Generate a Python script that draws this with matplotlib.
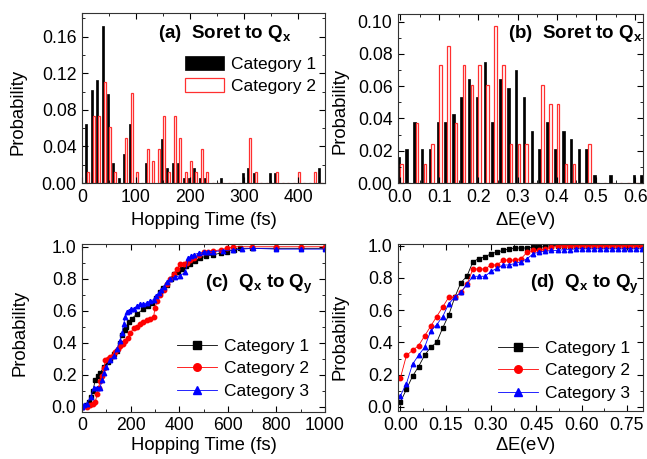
import matplotlib
matplotlib.use("Agg")
import matplotlib.pyplot as plt
import numpy as np
from matplotlib.ticker import MultipleLocator, FormatStrFormatter

plt.rcParams['font.family'] = ['Liberation Sans', 'DejaVu Sans']
plt.rcParams['mathtext.fontset'] = 'custom'
plt.rcParams['mathtext.rm'] = 'Liberation Sans'
plt.rcParams['mathtext.bf'] = 'Liberation Sans:bold'
plt.rcParams['mathtext.it'] = 'Liberation Sans:italic'

# ---------------- data ----------------
# (a) hopping time histogram, bins of 10 fs
a_bins = [10, 20, 30, 40, 50, 60, 70, 80, 90, 100, 110, 120, 130, 140, 150, 160, 170, 180,
          190, 200, 210, 220, 230, 240, 250, 260, 270, 280, 290, 300, 310, 320, 330, 340,
          350, 360, 370, 380, 390, 400, 410, 420, 430, 440]
a_cat1 = [0.065, 0.102, 0.113, 0.172, 0.097, 0.022, 0.005, 0.032, 0.065, 0.0, 0.0, 0.022, 0.0, 0.0,
          0.048, 0.016, 0.022, 0.022, 0.005, 0.005, 0.016, 0.005, 0.005, 0.0, 0.0, 0.005, 0.0, 0.0,
          0.0, 0.011, 0.016, 0.011, 0.0, 0.0, 0.011, 0.011, 0.0, 0.0, 0.0, 0.0, 0.0, 0.0, 0.0, 0.016]
a_cat2 = [0.012, 0.073, 0.073, 0.110, 0.061, 0.012, 0.0, 0.049, 0.098, 0.012, 0.0, 0.037, 0.024,
          0.037, 0.073, 0.012, 0.073, 0.049, 0.012, 0.024, 0.012, 0.037, 0.012, 0.0, 0.0, 0.0, 0.0,
          0.0, 0.0, 0.0, 0.049, 0.012, 0.0, 0.0, 0.0, 0.012, 0.0, 0.0, 0.0, 0.012, 0.0, 0.0, 0.012, 0.0]

# (b) energy gap histogram, bins of 0.02 eV
b_bins = [round(0.02 * i, 2) for i in range(32)]
b_cat1 = [0.016, 0.021, 0.0375, 0.021, 0.021, 0.0375, 0.0375, 0.043, 0.0535, 0.0645, 0.0535,
          0.075, 0.0375, 0.0645, 0.059, 0.070, 0.0535, 0.032, 0.021, 0.0375, 0.021, 0.032, 0.027,
          0.021, 0.021, 0.005, 0.0, 0.005, 0.0, 0.0, 0.005, 0.005]
b_cat2 = [0.012, 0.0, 0.037, 0.012, 0.024, 0.073, 0.085, 0.037, 0.073, 0.061, 0.073, 0.061,
          0.097, 0.073, 0.024, 0.024, 0.024, 0.0, 0.061, 0.049, 0.049, 0.012, 0.012, 0.0, 0.024,
          0.0, 0.0, 0.0, 0.0, 0.0, 0.0, 0.0]

# (c) cumulative hopping time, Q_x -> Q_y
c1_t = [0, 15, 27, 38, 45, 55, 65, 75, 90, 105, 116, 130, 144, 155, 164, 175, 182, 192, 205,
        226, 253, 270, 288, 305, 322, 335, 349, 365, 377, 395, 411, 430, 445, 465, 486, 510,
        541, 570, 596, 625, 651, 700, 800, 900, 1000]
c1_p = [0.0, 0.01, 0.03, 0.06, 0.10, 0.17, 0.19, 0.21, 0.25, 0.28, 0.30, 0.33, 0.35, 0.40, 0.45,
        0.48, 0.50, 0.53, 0.55, 0.58, 0.61, 0.63, 0.65, 0.68, 0.72, 0.74, 0.76, 0.80, 0.83, 0.84,
        0.86, 0.88, 0.89, 0.91, 0.93, 0.94, 0.95, 0.96, 0.97, 0.98, 0.99, 0.99, 0.99, 0.99, 0.99]
c2_t = [0, 20, 34, 45, 55, 62, 68, 75, 82, 90, 96, 106, 116, 127, 137, 148, 158, 168, 178, 188,
        199, 212, 226, 240, 253, 267, 281, 295, 300, 310, 322, 336, 349, 363, 377, 390, 404, 418,
        432, 445, 459, 480, 500, 520, 541, 570, 596, 623, 700, 800, 900, 1000]
c2_p = [0.0, 0.0, 0.01, 0.02, 0.03, 0.08, 0.12, 0.16, 0.19, 0.24, 0.29, 0.30, 0.31, 0.32, 0.34,
        0.36, 0.38, 0.39, 0.41, 0.43, 0.46, 0.49, 0.50, 0.52, 0.53, 0.54, 0.55, 0.56, 0.62, 0.66,
        0.70, 0.73, 0.77, 0.80, 0.83, 0.86, 0.89, 0.89, 0.90, 0.92, 0.93, 0.95, 0.965, 0.97, 0.975,
        0.98, 0.99, 1.0, 1.0, 1.0, 1.0, 1.0]
c3_t = [0, 10, 20, 35, 48, 60, 75, 82, 89, 100, 116, 130, 144, 155, 164, 172, 178, 185, 192,
        200, 212, 226, 240, 253, 267, 281, 295, 305, 315, 325, 336, 350, 363, 384, 404, 425, 438,
        448, 459, 480, 500, 520, 541, 580, 623, 660, 705, 800, 900, 1000]
c3_p = [0.0, 0.01, 0.02, 0.06, 0.12, 0.12, 0.12, 0.17, 0.21, 0.25, 0.29, 0.32, 0.36, 0.41, 0.46,
        0.52, 0.56, 0.59, 0.60, 0.61, 0.61, 0.63, 0.64, 0.64, 0.65, 0.66, 0.67, 0.69, 0.71, 0.73,
        0.75, 0.78, 0.80, 0.81, 0.82, 0.84, 0.93, 0.94, 0.95, 0.96, 0.965, 0.97, 0.97, 0.975, 0.98,
        0.985, 0.99, 0.985, 0.985, 0.985]

# (d) cumulative energy gap, Q_x -> Q_y
d_e = [round(0.02 * i, 2) for i in range(41)]
d_cat1 = [0.03, 0.11, 0.19, 0.25, 0.32, 0.37, 0.40, 0.49, 0.57, 0.68, 0.77, 0.81, 0.90, 0.92,
          0.93, 0.95, 0.96, 0.97, 0.98, 0.985, 0.985, 0.985, 0.99, 0.99, 0.995, 1.0, 1.0, 1.0, 1.0,
          1.0, 1.0, 1.0, 1.0, 1.0, 1.0, 1.0, 1.0, 1.0, 1.0, 1.0, 1.0]
d_cat2 = [0.18, 0.32, 0.35, 0.38, 0.44, 0.50, 0.56, 0.62, 0.68, 0.68, 0.71, 0.76, 0.855, 0.855,
          0.855, 0.88, 0.88, 0.91, 0.91, 0.91, 0.92, 0.96, 0.97, 0.97, 0.98, 0.99, 1.0, 1.0, 1.0,
          1.0, 1.0, 1.0, 1.0, 1.0, 1.0, 1.0, 1.0, 1.0, 1.0, 1.0, 1.0]
d_cat3 = [0.07, 0.145, 0.265, 0.32, 0.37, 0.47, 0.51, 0.56, 0.64, 0.68, 0.71, 0.76, 0.81, 0.81,
          0.81, 0.84, 0.86, 0.88, 0.88, 0.89, 0.90, 0.92, 0.95, 0.96, 0.965, 0.97, 0.97, 0.975,
          0.975, 0.98, 0.98, 0.98, 0.98, 0.98, 0.98, 0.98, 0.98, 0.98, 0.98, 0.98, 0.98]

labels = ['Category 1', 'Category 2', 'Category 3']

# ---------------- figure ----------------
fig = plt.figure(figsize=(6.47, 4.59), dpi=100)
W, H = 647, 459

def add_ax(l, r, t, b):
    return fig.add_axes([l / W, 1 - b / H, (r - l) / W, (b - t) / H])

axa = add_ax(82, 325, 13, 183)
axb = add_ax(398, 643, 14, 183)
axc = add_ax(82, 325, 244, 411.5)
axd = add_ax(398, 643, 244, 411)

TFS = 12.7   # tick labels
LFS = 13.3   # axis labels
HFS = 13.5   # panel titles
GFS = 12.5   # legends

def style(ax):
    ax.tick_params(which='both', direction='in', top=True, right=True, labelsize=TFS)
    ax.tick_params(which='major', length=4, width=0.8, pad=4)
    ax.tick_params(which='minor', length=2, width=0.6)
    for s in ax.spines.values():
        s.set_linewidth(0.8)
        s.set_color('#333333')

def labels_at(ax, xl, yl, xpos, ypos):
    ax.set_xlabel(xl, fontsize=LFS)
    ax.set_ylabel(yl, fontsize=LFS)
    ax.xaxis.set_label_coords(xpos[0], xpos[1])
    ax.yaxis.set_label_coords(ypos[0], ypos[1])

# (a)
xa = np.array(a_bins)
axa.bar(xa - 1.9, a_cat1, width=3.6, color='black', edgecolor='black', linewidth=0.5,
        label='Category 1')
axa.bar(xa + 1.9, a_cat2, width=3.6, facecolor='white', edgecolor='#ff3030', linewidth=0.9,
        label='Category 2')
axa.set_xlim(0, 450)
axa.set_ylim(0, 0.186)
axa.xaxis.set_major_locator(MultipleLocator(100))
axa.xaxis.set_minor_locator(MultipleLocator(50))
axa.yaxis.set_major_locator(MultipleLocator(0.04))
axa.yaxis.set_minor_locator(MultipleLocator(0.02))
axa.yaxis.set_major_formatter(FormatStrFormatter('%.2f'))
labels_at(axa, 'Hopping Time (fs)', 'Probability', (0.5, -0.17), (-0.23, 0.42))
axa.text(0.314, 0.851, r'$\mathbf{(a)\ \ Soret\ to\ Q_x}$', transform=axa.transAxes,
         ha='left', va='baseline', fontsize=HFS)
axa.legend(loc='center left', bbox_to_anchor=(0.424, 0.635), frameon=False, fontsize=GFS,
           handlelength=2.25, handleheight=0.9, handletextpad=0.4, labelspacing=0.35,
           borderaxespad=0, borderpad=0)
style(axa)

# (b)
xb = np.array(b_bins)
axb.bar(xb - 0.0035, b_cat1, width=0.0065, color='black', edgecolor='black', linewidth=0.5)
axb.bar(xb + 0.0035, b_cat2, width=0.0065, facecolor='white', edgecolor='#ff3030', linewidth=0.9)
axb.set_xlim(-0.005, 0.62)
axb.set_ylim(0, 0.1047)
axb.xaxis.set_major_locator(MultipleLocator(0.1))
axb.xaxis.set_minor_locator(MultipleLocator(0.05))
axb.yaxis.set_major_locator(MultipleLocator(0.02))
axb.yaxis.set_minor_locator(MultipleLocator(0.01))
axb.yaxis.set_major_formatter(FormatStrFormatter('%.2f'))
axb.xaxis.set_major_formatter(FormatStrFormatter('%.1f'))
labels_at(axb, r'$\Delta$E(eV)', 'Probability', (0.52, -0.16), (-0.204, 0.427))
axb.text(0.45, 0.856, r'$\mathbf{(b)\ \ Soret\ to\ Q_x}$', transform=axb.transAxes,
         ha='left', va='baseline', fontsize=HFS)
style(axb)

# (c)
kw = dict(linewidth=0.6, markersize=3.2)
axc.plot(c1_t, c1_p, '-s', color='black', label=labels[0], **kw)
axc.plot(c2_t, c2_p, '-o', color='red', label=labels[1], **kw)
axc.plot(c3_t, c3_p, '-^', color='blue', label=labels[2], **kw)
axc.set_xlim(0, 1000)
axc.set_ylim(-0.03, 1.017)
axc.xaxis.set_major_locator(MultipleLocator(200))
axc.xaxis.set_minor_locator(MultipleLocator(100))
axc.yaxis.set_major_locator(MultipleLocator(0.2))
axc.yaxis.set_minor_locator(MultipleLocator(0.1))
axc.yaxis.set_major_formatter(FormatStrFormatter('%.1f'))
labels_at(axc, 'Hopping Time (fs)', 'Probability', (0.5, -0.152), (-0.222, 0.469))
axc.text(0.506, 0.735, r'$\mathbf{(c)\ \ Q_x\ to\ Q_y}$', transform=axc.transAxes,
         ha='left', va='baseline', fontsize=HFS)
axc.legend(loc='center left', bbox_to_anchor=(0.39, 0.255), frameon=False, fontsize=GFS,
           handlelength=2.3, handletextpad=0.4, labelspacing=0.42, markerscale=1.7,
           borderaxespad=0, borderpad=0)
style(axc)

# (d)
xd = np.array(d_e)
axd.plot(xd, d_cat1, '-s', color='black', label=labels[0], **kw)
axd.plot(xd, d_cat2, '-o', color='red', label=labels[1], **kw)
axd.plot(xd, d_cat3, '-^', color='blue', label=labels[2], **kw)
axd.set_xlim(-0.008, 0.803)
axd.set_ylim(-0.025, 1.01)
axd.xaxis.set_major_locator(MultipleLocator(0.15))
axd.xaxis.set_minor_locator(MultipleLocator(0.075))
axd.yaxis.set_major_locator(MultipleLocator(0.2))
axd.yaxis.set_minor_locator(MultipleLocator(0.1))
axd.yaxis.set_major_formatter(FormatStrFormatter('%.1f'))
axd.xaxis.set_major_formatter(FormatStrFormatter('%.2f'))
labels_at(axd, r'$\Delta$E(eV)', 'Probability', (0.52, -0.144), (-0.2, 0.445))
axd.text(0.539, 0.735, r'$\mathbf{(d)\ \ Q_x\ to\ Q_y}$', transform=axd.transAxes,
         ha='left', va='baseline', fontsize=HFS)
axd.legend(loc='center left', bbox_to_anchor=(0.408, 0.241), frameon=False, fontsize=GFS,
           handlelength=2.3, handletextpad=0.4, labelspacing=0.42, markerscale=1.7,
           borderaxespad=0, borderpad=0)
style(axd)

fig.savefig('out.png', dpi=100)
